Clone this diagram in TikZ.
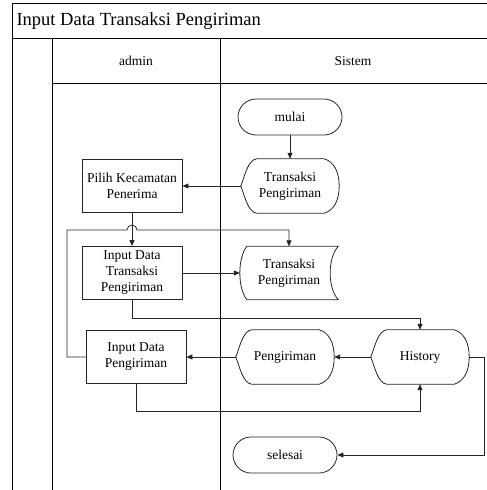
\documentclass[tikz,border=0pt]{standalone}
\usepackage{fontspec}
\setmainfont{Liberation Serif}
\usepackage{tikz}
\usetikzlibrary{arrows.meta,calc}

\tikzset{
  garis/.style={line width=0.8pt, draw=black!85},
  alur/.style={-{Triangle[length=6pt,width=5pt]}},
  teks/.style={font=\fontsize{13.5}{16}\selectfont, align=center},
  terminal/.style={teks, garis, rounded corners=18pt, minimum width=104pt, minimum height=36pt},
  proses/.style={teks, garis, rectangle, minimum width=100pt, minimum height=53pt},
  tampil/.style={teks, minimum width=98pt, minimum height=54pt},
  simpan/.style={teks, minimum width=98pt, minimum height=53pt},
}

% bentuk display
\newcommand{\tampilan}[1]{%
  \draw[garis] (#1.west) .. controls ($(#1.west)+(4pt,10pt)$) and ($(#1.north west)+(7pt,-1pt)$) .. ($(#1.north west)+(16pt,0pt)$)
    -- ($(#1.north east)+(-15pt,0pt)$)
    .. controls ($(#1.north east)+(-5pt,-3pt)$) and ($(#1.east)+(0pt,14pt)$) .. (#1.east)
    .. controls ($(#1.east)+(0pt,-14pt)$) and ($(#1.south east)+(-5pt,3pt)$) .. ($(#1.south east)+(-15pt,0pt)$)
    -- ($(#1.south west)+(16pt,0pt)$)
    .. controls ($(#1.south west)+(7pt,1pt)$) and ($(#1.west)+(4pt,-10pt)$) .. cycle;}

% bentuk stored data
\newcommand{\simpanan}[1]{%
  \draw[garis] ($(#1.north west)+(7pt,0pt)$) -- (#1.north east)
    .. controls ($(#1.north east)+(-10.7pt,-12pt)$) and ($(#1.south east)+(-10.7pt,12pt)$) .. (#1.south east)
    -- ($(#1.south west)+(7pt,0pt)$)
    .. controls ($(#1.south west)+(-2.3pt,12pt)$) and ($(#1.north west)+(-2.3pt,-12pt)$) .. cycle;}

\begin{document}
\begin{tikzpicture}[x=1pt,y=-1pt]
\useasboundingbox (0,0) rectangle (487,490);

% kerangka swimlane
\draw[line width=0.9pt] (12,490) -- (12,3) -- (487,3);
\draw[line width=0.9pt] (12,38) -- (487,38);
\draw[line width=0.9pt] (52,38) -- (52,490);
\draw[line width=0.9pt] (220,38) -- (220,490);
\draw[line width=0.9pt] (52,83) -- (487,83);
\node[anchor=west, font=\fontsize{18.5}{20}\selectfont] (judul) at (13,21) {Input Data Transaksi Pengiriman};
\node[teks] (admin) at (136,61) {admin};
\node[teks] (sistem) at (353,61) {Sistem};

% simbol
\node[terminal] (mulai) at (290,117) {mulai};
\node[tampil] (tpa) at (290,186) {Transaksi\\Pengiriman};
\node[proses] (pilih) at (132,186) {Pilih Kecamatan\\Penerima};
\node[proses] (idtp) at (132,273) {Input Data\\Transaksi\\Pengiriman};
\node[simpan] (tpb) at (289,273) {Transaksi\\Pengiriman};
\node[tampil] (history) at (420,357) {History};
\node[tampil] (peng) at (285,357) {Pengiriman};
\node[proses] (idp) at (136,357) {Input Data\\Pengiriman};
\node[terminal] (selesai) at (285,455) {selesai};
\tampilan{tpa}
\tampilan{history}
\tampilan{peng}
\simpanan{tpb}

% alur
\coordinate (belok) at (67,230);
\draw[garis,alur] (mulai) -- (tpa);
\draw[garis,alur] (tpa.west) -- (pilih.east);
\draw[garis,alur] (pilih) -- (idtp);
\draw[garis,alur] (idtp) -- (tpb);
\draw[garis,alur] (idtp.south) -- ++(0,18) -| (history.north);
\draw[garis,alur] (history.west) -- (peng.east);
\draw[garis,alur] (peng.west) -- (idp.east);
\draw[garis,alur] (idp.west) -| (belok) -- (127,230) arc[start angle=180,end angle=0,radius=5pt] -- (tpb.north |- belok) -- (tpb.north);
\draw[garis,alur] (idp.south) -- ++(0,27) -| (history.south);
\draw[garis,alur] (history.east) -- ++(15,0) |- (selesai.east);
\end{tikzpicture}
\end{document}
